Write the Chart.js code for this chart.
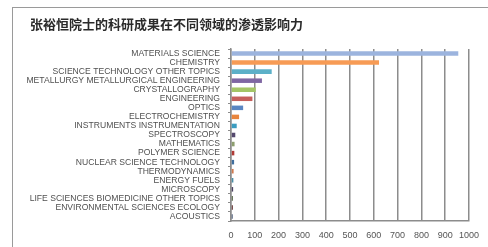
<!DOCTYPE html>
<html>
<head>
<meta charset="utf-8">
<script src="https://cdn.jsdelivr.net/npm/chart.js@4/dist/chart.umd.min.js"></script>
<style>
html,body{margin:0;padding:0;background:#fff;}
#wrap{position:relative;width:488px;height:247px;}
</style>
</head>
<body>
<div id="wrap"><canvas id="c" width="488" height="247"></canvas></div>
<script>
const titleText = '张裕恒院士的科研成果在不同领域的渗透影响力';
const categories = [
  'MATERIALS SCIENCE','CHEMISTRY','SCIENCE TECHNOLOGY OTHER TOPICS',
  'METALLURGY METALLURGICAL ENGINEERING','CRYSTALLOGRAPHY','ENGINEERING','OPTICS',
  'ELECTROCHEMISTRY','INSTRUMENTS INSTRUMENTATION','SPECTROSCOPY','MATHEMATICS',
  'POLYMER SCIENCE','NUCLEAR SCIENCE TECHNOLOGY','THERMODYNAMICS','ENERGY FUELS',
  'MICROSCOPY','LIFE SCIENCES BIOMEDICINE OTHER TOPICS','ENVIRONMENTAL SCIENCES ECOLOGY','ACOUSTICS'
];
const values = [955, 622, 171, 130, 104, 90, 51, 34, 24, 18, 15, 14, 13, 11, 10, 9, 8, 8, 7];
const barColors = ['#9cb4de','#f79b55','#5cb0c8','#7f67a3','#a3c566','#c55f5c','#5a86c2','#e8843c',
  '#3b9cc0','#54486e','#8d9e6e','#b03a36','#3f6e9e','#d07a50','#4a8ea6','#4a4060','#5a6a4a','#6a3a3a','#3a4a6a'];
const xTicks = [0,100,200,300,400,500,600,700,800,900,1000];

const framePlugin = {
  id: 'frame',
  beforeDraw(chart) {
    const ctx = chart.ctx;
    ctx.save();
    ctx.fillStyle = '#ffffff';
    ctx.fillRect(0, 0, chart.width, chart.height);
    ctx.strokeStyle = '#9a9a9a';
    ctx.lineWidth = 1;
    ctx.strokeRect(12.5, 7.5, 520, 300);
    ctx.restore();
  },
  afterDraw(chart) {
    const ctx = chart.ctx;
    ctx.save();
    ctx.fillStyle = '#2a2a2a';
    ctx.font = 'bold 13px "Noto Sans CJK SC", sans-serif';
    ctx.textBaseline = 'middle';
    ctx.textAlign = 'left';
    ctx.fillText(titleText, 30, 24.5);
    ctx.restore();
  }
};

new Chart(document.getElementById('c'), {
  type: 'bar',
  data: {
    labels: categories,
    datasets: [{
      data: values,
      backgroundColor: barColors,
      borderWidth: 0,
      barPercentage: 0.5,
      categoryPercentage: 1.0
    }]
  },
  options: {
    indexAxis: 'y',
    responsive: false,
    animation: false,
    devicePixelRatio: 1,
    layout: { padding: { left: 14, right: 15.5, top: 49, bottom: 0 } },
    plugins: {
      legend: { display: false },
      tooltip: { enabled: false },
      title: { display: false }
    },
    scales: {
      x: {
        min: 0, max: 1000,
        afterBuildTicks(scale) { scale.ticks = xTicks.map(v => ({ value: v })); },
        afterFit(scale) { scale.height = 26; },
        grid: { color: '#8c8c8c', lineWidth: 1.5, drawTicks: false },
        border: { display: true, color: '#8c8c8c', width: 1.5 },
        ticks: { color: '#555555', padding: 9, maxRotation: 0, autoSkip: false,
          callback: (v) => String(v),
          font: { family: '"Liberation Sans", Arial, sans-serif', size: 9 } }
      },
      y: {
        afterFit(scale) { scale.width = 217; },
        grid: { display: true, drawOnChartArea: false, color: '#8c8c8c', tickLength: 3 },
        border: { display: true, color: '#8c8c8c', width: 1.5 },
        ticks: { color: '#505050', padding: 8, autoSkip: false,
          font: { family: '"Liberation Sans", Arial, sans-serif', size: 8.6 } }
      }
    }
  },
  plugins: [framePlugin]
});
</script>
</body>
</html>
